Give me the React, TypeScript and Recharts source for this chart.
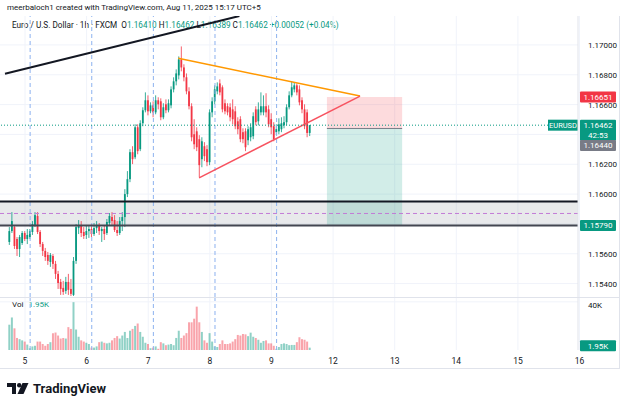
import {
  ComposedChart,
  Bar,
  Cell,
  XAxis,
  YAxis,
  CartesianGrid,
  ReferenceLine,
  ReferenceArea,
} from "recharts"

// EUR/USD 1h candles, first candle is 6 hours before the "5" day mark
const FIRST_HOUR = -6

const open = [
  1.15679, 1.15752, 1.15779, 1.15699, 1.15632, 1.15672, 1.15739, 1.15699, 1.15712, 1.15746,
  1.15793, 1.15853, 1.15746, 1.15665, 1.15619, 1.15592, 1.15545, 1.15585, 1.15532, 1.15465,
  1.15411, 1.15371, 1.15351, 1.15411, 1.15364, 1.15324, 1.15552, 1.15772, 1.15793, 1.15746,
  1.15726, 1.15752, 1.15766, 1.15732, 1.15772, 1.15786, 1.15752, 1.15766, 1.15739, 1.15806,
  1.15846, 1.15826, 1.15759, 1.15739, 1.15819, 1.15846, 1.16000, 1.16100, 1.16281, 1.16247,
  1.16448, 1.16301, 1.16475, 1.16562, 1.16629, 1.16555, 1.16595, 1.16548, 1.16629, 1.16622,
  1.16515, 1.16602, 1.16562, 1.16595, 1.16702, 1.16756, 1.16796, 1.16903, 1.16849, 1.16783,
  1.16689, 1.16589, 1.16401, 1.16421, 1.16368, 1.16234, 1.16321, 1.16301, 1.16214, 1.16548,
  1.16622, 1.16689, 1.16742, 1.16716, 1.16609, 1.16589, 1.16582, 1.16568, 1.16555, 1.16488,
  1.16502, 1.16415, 1.16421, 1.16361, 1.16381, 1.16388, 1.16568, 1.16488, 1.16548, 1.16548,
  1.16589, 1.16568, 1.16502, 1.16455, 1.16415, 1.16421, 1.16435, 1.16461, 1.16482, 1.16582,
  1.16662, 1.16702, 1.16729, 1.16702, 1.16629, 1.16568, 1.16548, 1.16410,
]

const high = [
  1.15779, 1.15879, 1.15793, 1.15712, 1.15726, 1.15752, 1.15752, 1.15766, 1.15766, 1.15819,
  1.15879, 1.15879, 1.15759, 1.15679, 1.15639, 1.15612, 1.15605, 1.15598, 1.15552, 1.15485,
  1.15431, 1.15418, 1.15445, 1.15465, 1.15431, 1.15578, 1.15799, 1.15826, 1.15819, 1.15779,
  1.15793, 1.15786, 1.15799, 1.15806, 1.15819, 1.15806, 1.15779, 1.15786, 1.15833, 1.15873,
  1.15879, 1.15859, 1.15819, 1.15846, 1.15879, 1.16033, 1.16154, 1.16301, 1.16321, 1.16468,
  1.16468, 1.16495, 1.16582, 1.16682, 1.16662, 1.16615, 1.16622, 1.16662, 1.16649, 1.16642,
  1.16609, 1.16635, 1.16635, 1.16722, 1.16783, 1.16836, 1.16923, 1.16990, 1.16870, 1.16809,
  1.16716, 1.16609, 1.16502, 1.16448, 1.16395, 1.16381, 1.16348, 1.16328, 1.16568, 1.16649,
  1.16729, 1.16749, 1.16769, 1.16729, 1.16635, 1.16609, 1.16609, 1.16635, 1.16589, 1.16515,
  1.16522, 1.16441, 1.16441, 1.16455, 1.16475, 1.16548, 1.16589, 1.16615, 1.16682, 1.16662,
  1.16676, 1.16595, 1.16542, 1.16482, 1.16468, 1.16508, 1.16515, 1.16522, 1.16602, 1.16689,
  1.16756, 1.16749, 1.16742, 1.16729, 1.16649, 1.16602, 1.16568, 1.16462,
]

const low = [
  1.15659, 1.15739, 1.15632, 1.15585, 1.15578, 1.15659, 1.15685, 1.15665, 1.15699, 1.15726,
  1.15779, 1.15732, 1.15645, 1.15585, 1.15552, 1.15525, 1.15512, 1.15498, 1.15431, 1.15364,
  1.15324, 1.15324, 1.15331, 1.15324, 1.15317, 1.15317, 1.15532, 1.15732, 1.15712, 1.15699,
  1.15699, 1.15706, 1.15712, 1.15719, 1.15739, 1.15726, 1.15679, 1.15692, 1.15726, 1.15786,
  1.15793, 1.15746, 1.15719, 1.15726, 1.15752, 1.15779, 1.15980, 1.16080, 1.16201, 1.16234,
  1.16267, 1.16288, 1.16455, 1.16548, 1.16528, 1.16542, 1.16515, 1.16535, 1.16568, 1.16495,
  1.16502, 1.16542, 1.16548, 1.16575, 1.16682, 1.16729, 1.16769, 1.16823, 1.16756, 1.16669,
  1.16568, 1.16354, 1.16301, 1.16288, 1.16114, 1.16180, 1.16221, 1.16187, 1.16194, 1.16515,
  1.16602, 1.16669, 1.16662, 1.16548, 1.16535, 1.16528, 1.16488, 1.16468, 1.16435, 1.16401,
  1.16348, 1.16341, 1.16288, 1.16328, 1.16354, 1.16368, 1.16461, 1.16461, 1.16528, 1.16528,
  1.16515, 1.16448, 1.16401, 1.16354, 1.16395, 1.16401, 1.16415, 1.16441, 1.16461, 1.16568,
  1.16649, 1.16682, 1.16662, 1.16595, 1.16542, 1.16435, 1.16381, 1.16389,
]

const close = [
  1.15752, 1.15819, 1.15652, 1.15632, 1.15712, 1.15739, 1.15699, 1.15726, 1.15752, 1.15799,
  1.15859, 1.15746, 1.15665, 1.15619, 1.15578, 1.15552, 1.15592, 1.15532, 1.15465, 1.15404,
  1.15364, 1.15344, 1.15411, 1.15358, 1.15331, 1.15552, 1.15779, 1.15793, 1.15739, 1.15719,
  1.15752, 1.15766, 1.15732, 1.15772, 1.15793, 1.15752, 1.15766, 1.15732, 1.15813, 1.15853,
  1.15819, 1.15759, 1.15739, 1.15819, 1.15846, 1.16000, 1.16100, 1.16281, 1.16234, 1.16448,
  1.16288, 1.16475, 1.16562, 1.16629, 1.16555, 1.16595, 1.16548, 1.16629, 1.16602, 1.16515,
  1.16582, 1.16562, 1.16609, 1.16702, 1.16756, 1.16809, 1.16903, 1.16849, 1.16783, 1.16689,
  1.16589, 1.16381, 1.16334, 1.16314, 1.16194, 1.16354, 1.16254, 1.16214, 1.16548, 1.16622,
  1.16702, 1.16722, 1.16682, 1.16568, 1.16555, 1.16548, 1.16515, 1.16502, 1.16455, 1.16435,
  1.16368, 1.16368, 1.16314, 1.16435, 1.16448, 1.16522, 1.16482, 1.16568, 1.16589, 1.16589,
  1.16548, 1.16468, 1.16448, 1.16368, 1.16435, 1.16468, 1.16475, 1.16482, 1.16582, 1.16662,
  1.16716, 1.16729, 1.16682, 1.16615, 1.16568, 1.16455, 1.16410, 1.16462,
]

const volume = [
  21000, 27000, 18000, 10000, 9000, 8000, 7000, 4500, 1500, 3000,
  3500, 7000, 7000, 5000, 3500, 5000, 6500, 13900, 14500, 12000,
  9500, 10000, 9500, 19000, 17500, 39700, 17000, 11000, 8000, 7000,
  6000, 5000, 2000, 2000, 3000, 6500, 7000, 6000, 5500, 6000,
  8000, 10000, 11500, 9500, 12000, 15000, 10000, 16000, 17500, 20000,
  22000, 15000, 11000, 6000, 5000, 1500, 2000, 3000, 1000, 6500,
  5500, 4000, 4500, 5000, 4000, 10000, 16000, 10000, 12000, 14000,
  23000, 23000, 26000, 36000, 23000, 15000, 8000, 6000, 14000, 7000,
  3000, 2500, 5000, 8000, 5000, 5000, 5500, 7000, 9000, 12500,
  12000, 13300, 13000, 11500, 14400, 11000, 10000, 8500, 6000, 7500,
  8000, 5500, 5500, 3500, 1000, 2500, 5000, 5500, 5000, 4000,
  4200, 4200, 6500, 10600, 9000, 8500, 7000, 1950,
]

// day marks on the time axis (hours from the "5" mark)
const dayTicks = [0, 24, 48, 72, 96, 120, 144, 168, 192, 216]
const dayLabels = ["5", "6", "7", "8", "9", "12", "13", "14", "15", "16"]
const sessionBreaks = [2, 26, 50, 74, 98]

const priceTicks = [1.154, 1.156, 1.158, 1.16, 1.162, 1.164, 1.166, 1.168, 1.17]
const volumeTicks = [20000, 40000]

// drawings
const zoneTop = 1.1595
const zoneBottom = 1.1579
const zoneMid = 1.1587
const lastPrice = 1.16462
const stopPrice = 1.16651
const entryPrice = 1.1644
const targetPrice = 1.1579
const positionFrom = 117.6
const positionTo = 146.9
const upperTrend = [{ x: 59.7, y: 1.16911 }, { x: 130.5, y: 1.16657 }]
const lowerTrend = [{ x: 67.8, y: 1.16109 }, { x: 130.5, y: 1.16657 }]
const channelLine = [{ x: -7.8, y: 1.16807 }, { x: 83.5, y: 1.17194 }]

const UP = "#089981"
const DOWN = "#f23645"
const TEXT = "#131722"
const GRID = "#f0f3fa"
const BORDER = "#e0e3eb"
const SESSION = "#8db2ef"
const FONT = "Roboto, 'Noto Sans', sans-serif"

const X_DOMAIN: [number, number] = [-9.74, 215.4]
const PRICE_DOMAIN: [number, number] = [1.1531, 1.17194]
const VOLUME_DOMAIN: [number, number] = [0, 44000]

const rows = open.map((o, k) => ({
  t: FIRST_HOUR + k,
  o,
  h: high[k],
  l: low[k],
  c: close[k],
  v: volume[k],
}))

// wick + body drawn inside the [low, high] range bar
function Candle(props: any) {
  const { x, y, width, height, payload } = props
  if (!payload) return null
  const { o, h, l, c } = payload
  const color = c >= o ? UP : DOWN
  const yHigh = Math.min(y, y + height)
  const yLow = Math.max(y, y + height)
  const span = h - l || 1
  const toY = (v: number) => yHigh + ((h - v) / span) * (yLow - yHigh)
  const top = toY(Math.max(o, c))
  const bottom = toY(Math.min(o, c))
  const cx = x + width / 2
  return (
    <g>
      <line x1={cx} x2={cx} y1={yHigh} y2={yLow} stroke={color} strokeWidth={0.8} />
      <rect x={cx - 0.9} y={top} width={1.8} height={Math.max(bottom - top, 0.8)} fill={color} />
    </g>
  )
}

// coloured price tag on the right price scale
function axisTag(text: string, bg: string, shift = 0, sub?: string) {
  return (props: any) => {
    const vb = props.viewBox
    if (!vb) return null
    const x = vb.x + vb.width + 2
    const y = vb.y + shift
    const h = sub ? 21 : 11
    return (
      <g fontFamily={FONT}>
        <rect x={x} y={y - 5.5} width={36} height={h} fill={bg} rx={1} />
        <text x={x + 18} y={y + 3} textAnchor="middle" fontSize={8} fill="#fff">
          {text}
        </text>
        {sub && (
          <text x={x + 18} y={y + 13} textAnchor="middle" fontSize={8} fill="#fff">
            {sub}
          </text>
        )}
      </g>
    )
  }
}

function lastPriceTag(props: any) {
  const vb = props.viewBox
  if (!vb) return null
  const right = vb.x + vb.width
  return (
    <g fontFamily={FONT}>
      <rect x={right - 30} y={vb.y - 5.5} width={30} height={11} fill={UP} />
      <text x={right - 15} y={vb.y + 3} textAnchor="middle" fontSize={7.5} fill="#fff">
        EURUSD
      </text>
      {axisTag(lastPrice.toFixed(5), UP, 0, "42:53")(props)}
    </g>
  )
}

// scale labels that sit under a price tag are not drawn
const coveredByTag = (v: number) =>
  Math.abs(v - zoneBottom) < 0.0004 || (v > entryPrice - 0.0012 && v < lastPrice + 0.0004)

function PriceTick(props: any) {
  const { x, y, payload } = props
  if (coveredByTag(payload.value)) return null
  return (
    <text x={x + 2} y={y + 3} fontSize={8} fill={TEXT} fontFamily={FONT}>
      {payload.value.toFixed(5)}
    </text>
  )
}

function VolumeTick(props: any) {
  const { x, y, payload } = props
  return (
    <text x={x + 2} y={y + 2} fontSize={8} fill={TEXT} fontFamily={FONT}>
      {payload.value / 1000}K
    </text>
  )
}

function DayTick(props: any) {
  const { x, y, payload } = props
  const label = dayLabels[dayTicks.indexOf(payload.value)]
  return (
    <text x={x} y={y + 6} textAnchor="middle" fontSize={8.5} fill={TEXT} fontFamily={FONT}>
      {label}
    </text>
  )
}

function PricePane() {
  return (
    <ComposedChart
      width={620}
      height={297}
      data={rows}
      margin={{ top: 16, right: 0, bottom: 0, left: 0 }}
    >
      <CartesianGrid stroke={GRID} horizontalValues={priceTicks} verticalValues={dayTicks} />
      <XAxis type="number" dataKey="t" domain={X_DOMAIN} allowDataOverflow hide />
      <YAxis
        orientation="right"
        width={42}
        domain={PRICE_DOMAIN}
        allowDataOverflow
        ticks={priceTicks}
        tick={<PriceTick />}
        tickLine={false}
        axisLine={{ stroke: BORDER }}
      />

      {/* support zone */}
      <ReferenceArea y1={zoneBottom} y2={zoneTop} fill="#787b86" fillOpacity={0.17} stroke="none" />
      <ReferenceLine y={zoneMid} stroke="#c27bd6" strokeDasharray="4 3" />

      {/* short position box */}
      <ReferenceArea
        x1={positionFrom}
        x2={positionTo}
        y1={entryPrice}
        y2={stopPrice}
        fill={DOWN}
        fillOpacity={0.18}
        stroke="none"
      />
      <ReferenceArea
        x1={positionFrom}
        x2={positionTo}
        y1={targetPrice}
        y2={entryPrice}
        fill={UP}
        fillOpacity={0.18}
        stroke="none"
      />

      {sessionBreaks.map((h) => (
        <ReferenceLine key={h} x={h} stroke={SESSION} strokeDasharray="4 3" />
      ))}

      <Bar
        dataKey={(d: any) => [d.l, d.h]}
        shape={<Candle />}
        barSize={2}
        isAnimationActive={false}
      />

      <ReferenceLine y={zoneTop} stroke={TEXT} strokeWidth={2} />
      <ReferenceLine
        y={zoneBottom}
        stroke="#434651"
        strokeWidth={2}
        label={axisTag(zoneBottom.toFixed(5), UP)}
      />
      <ReferenceLine
        segment={[
          { x: positionFrom, y: entryPrice },
          { x: positionTo, y: entryPrice },
        ]}
        stroke="#787b86"
      />
      <ReferenceLine segment={channelLine} stroke={TEXT} strokeWidth={2} ifOverflow="hidden" />
      <ReferenceLine segment={upperTrend} stroke="#ff9800" strokeWidth={1.5} />
      <ReferenceLine segment={lowerTrend} stroke="#f7525f" strokeWidth={1.5} />

      <ReferenceLine y={lastPrice} stroke={UP} strokeDasharray="1 2" label={lastPriceTag} />
      <ReferenceLine y={stopPrice} stroke="none" label={axisTag(stopPrice.toFixed(5), DOWN)} />
      <ReferenceLine
        y={entryPrice}
        stroke="none"
        label={axisTag(entryPrice.toFixed(5), "#787b86", 17)}
      />
    </ComposedChart>
  )
}

function VolumePane() {
  return (
    <ComposedChart
      width={620}
      height={73}
      data={rows}
      margin={{ top: 0, right: 0, bottom: 0, left: 0 }}
    >
      <CartesianGrid stroke={GRID} horizontalValues={volumeTicks} verticalValues={dayTicks} />
      <XAxis
        type="number"
        dataKey="t"
        domain={X_DOMAIN}
        allowDataOverflow
        ticks={dayTicks}
        tick={<DayTick />}
        tickLine={false}
        axisLine={false}
        height={20}
        interval={0}
      />
      <YAxis
        orientation="right"
        width={42}
        domain={VOLUME_DOMAIN}
        allowDataOverflow
        ticks={volumeTicks}
        tick={<VolumeTick />}
        tickLine={false}
        axisLine={{ stroke: BORDER }}
      />
      {sessionBreaks.map((h) => (
        <ReferenceLine key={h} x={h} stroke={SESSION} strokeDasharray="4 3" />
      ))}
      <Bar dataKey="v" barSize={2} isAnimationActive={false}>
        {rows.map((r, k) => (
          <Cell key={k} fill={r.c >= r.o ? UP : DOWN} fillOpacity={0.45} />
        ))}
      </Bar>
      <ReferenceLine
        y={volume[volume.length - 1]}
        stroke="none"
        label={axisTag("1.95K", UP, -2)}
      />
    </ComposedChart>
  )
}

function Logo() {
  return (
    <div style={{ position: "absolute", left: 7, top: 381, display: "flex", alignItems: "center" }}>
      <svg width={22} height={12} viewBox="0 0 22 12">
        <path d="M0 0 H9 V11 H5 V4 H0 Z" fill={TEXT} />
        <circle cx={12.2} cy={2.2} r={2.2} fill={TEXT} />
        <path d="M15.5 0 H21.5 L16.5 11 H10.5 Z" fill={TEXT} />
      </svg>
      <span style={{ marginLeft: 4, fontSize: 13, fontWeight: 700, color: TEXT, fontFamily: FONT }}>
        TradingView
      </span>
    </div>
  )
}

export default function App() {
  const green = { color: UP }
  return (
    <div
      style={{
        position: "absolute",
        left: 0,
        top: 0,
        width: 625,
        height: 407,
        background: "#fff",
        fontFamily: FONT,
        color: TEXT,
        overflow: "hidden",
      }}
    >
      <div style={{ position: "absolute", left: 7, top: 3, fontSize: 8, whiteSpace: "nowrap" }}>
        meerbaloch1 created with TradingView.com, Aug 11, 2025 15:17 UTC+5
      </div>
      <div style={{ position: "absolute", left: 12, top: 20, fontSize: 8.2, whiteSpace: "nowrap" }}>
        Euro / U.S. Dollar · 1h · FXCM&nbsp;&nbsp;O<span style={green}>1.16410</span> H
        <span style={green}>1.16462</span> L<span style={green}>1.16389</span> C
        <span style={green}>1.16462</span> <span style={green}>+0.00052 (+0.04%)</span>
      </div>
      <div style={{ position: "absolute", left: 12, top: 300, fontSize: 8, whiteSpace: "nowrap" }}>
        Vol <span style={{ ...green, marginLeft: 3 }}>1.95K</span>
      </div>

      <div style={{ position: "absolute", left: 0, top: 0 }}>
        <PricePane />
      </div>
      <div style={{ position: "absolute", left: 0, top: 297 }}>
        <VolumePane />
      </div>

      {/* pane frame */}
      <div style={{ position: "absolute", left: 0, top: 296.5, width: 620, height: 1, background: BORDER }} />
      <div style={{ position: "absolute", left: 0, top: 368, width: 620, height: 1, background: BORDER }} />
      <div style={{ position: "absolute", left: 619, top: 16, width: 1, height: 353, background: BORDER }} />

      <Logo />
    </div>
  )
}
